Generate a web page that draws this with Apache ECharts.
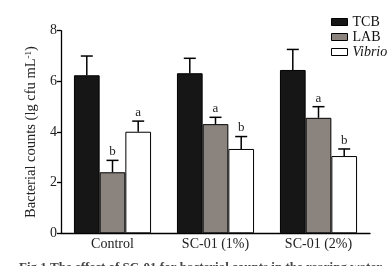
<!DOCTYPE html>
<html><head><meta charset="utf-8">
<script src="https://cdn.jsdelivr.net/npm/echarts@6/dist/echarts.min.js"></script>
<style>html,body{margin:0;padding:0;background:#fff}#c{width:392px;height:266px}</style>
</head><body><div id="c"></div>
<script>
var categories = ['Control', 'SC-01 (1%)', 'SC-01 (2%)'];
var seriesNames = ['TCB', 'LAB', 'Vibrio'];
var tcb = [6.24, 6.32, 6.45];
var lab = [2.41, 4.31, 4.56];
var vibrio = [4.01, 3.33, 3.05];
var tcbErr = [0.76, 0.59, 0.81];
var labErr = [0.47, 0.27, 0.44];
var vibrioErr = [0.42, 0.49, 0.28];
var labLetters = ['b', 'a', 'a'];
var vibrioLetters = ['a', 'b', 'b'];
var tcbLetters = ['', '', ''];
var yTicks = [0, 2, 4, 6, 8];

var FONT = '"Liberation Serif", "Times New Roman", serif';
var BW = 25.7;
var colors = ['#161616', '#8a837e', '#ffffff'];
var vals = [tcb, lab, vibrio];
var errs = [tcbErr, labErr, vibrioErr];
var letters = [tcbLetters, labLetters, vibrioLetters];

function errSeries(k) {
  var data = categories.map(function (c, i) { return [i, vals[k][i], errs[k][i], letters[k][i]]; });
  return {
    type: 'custom', name: seriesNames[k] + '_err', z: 10,
    data: data,
    renderItem: function (params, api) {
      var i = api.value(0), v = api.value(1), e = api.value(2);
      var lt = data[params.dataIndex][3];
      var base = api.coord([i, v]);
      var top = api.coord([i, v + e]);
      var x = base[0] + (k - 1) * BW;
      var cap = 6;
      var children = [
        { type: 'line', shape: { x1: x, y1: base[1], x2: x, y2: top[1] }, style: { stroke: '#000', lineWidth: 1.5 } },
        { type: 'line', shape: { x1: x - cap, y1: top[1], x2: x + cap, y2: top[1] }, style: { stroke: '#000', lineWidth: 1.5 } }
      ];
      if (lt) {
        children.push({ type: 'text', x: x, y: top[1] - 2, style: { text: lt, font: '13px ' + FONT, fill: '#222', align: 'center', verticalAlign: 'bottom' } });
      }
      return { type: 'group', children: children };
    }
  };
}

var series = [];
for (var k = 0; k < 3; k++) {
  series.push({
    type: 'bar', name: seriesNames[k], data: vals[k], barWidth: BW, barGap: '0%',
    itemStyle: { color: colors[k], borderColor: '#000', borderWidth: 1 }
  });
}
for (var k2 = 0; k2 < 3; k2++) series.push(errSeries(k2));

var chart = echarts.init(document.getElementById('c'), null, { renderer: 'canvas' });
chart.setOption({
  animation: false,
  backgroundColor: '#fff',
  grid: { left: 61, right: 22, top: 30.7, bottom: 32.7 },
  legend: {
    data: seriesNames.map(function (n, i) {
      return { name: n, icon: 'rect', itemStyle: { color: colors[i], borderColor: '#000', borderWidth: 1 } };
    }),
    orient: 'vertical', left: 331, top: 15, itemWidth: 16, itemHeight: 7, itemGap: 1, padding: 0,
    textStyle: { fontFamily: FONT, fontSize: 14, color: '#111',
      rich: {
        n: { fontFamily: FONT, fontSize: 14, color: '#111', lineHeight: 16 },
        it: { fontStyle: 'italic', fontFamily: FONT, fontSize: 14, color: '#111', lineHeight: 16 }
      } },
    formatter: function (n) { return n === 'Vibrio' ? '{it|Vibrio}' : '{n|' + n + '}'; }
  },
  xAxis: {
    type: 'category', data: categories,
    axisLine: { lineStyle: { color: '#000', width: 1.3 } },
    axisTick: { show: false },
    axisLabel: { fontFamily: FONT, fontSize: 14, color: '#222', margin: 4 }
  },
  yAxis: {
    type: 'value', min: yTicks[0], max: yTicks[yTicks.length - 1], interval: 2,
    name: 'Bacterial counts (lg cfu mL{sup|-1})',
    nameLocation: 'middle', nameGap: 21,
    nameTextStyle: { fontFamily: FONT, fontSize: 14.5, color: '#222',
      rich: { sup: { fontFamily: FONT, fontSize: 9, color: '#222', verticalAlign: 'top', padding: [0, 0, 6, 0] } } },
    axisLine: { show: true, lineStyle: { color: '#000', width: 1.3 } },
    axisTick: { show: true, length: 4, lineStyle: { color: '#000', width: 1.3 } },
    splitLine: { show: false },
    axisLabel: { fontFamily: FONT, fontSize: 14, color: '#222', margin: 4 }
  },
  graphic: [{
    type: 'text', left: 19, top: 261,
    style: { text: 'Fig.1 The effect of SC-01 for bacterial counts in the rearing water', font: 'bold 13px ' + FONT, fill: '#444' }
  }],
  series: series
});
</script></body></html>
